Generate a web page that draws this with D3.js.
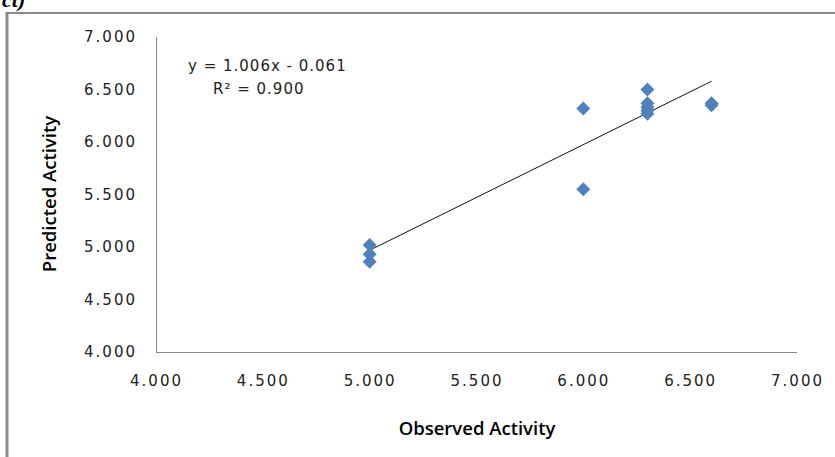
<!DOCTYPE html>
<meta charset="utf-8">
<style>
body { margin: 0; background: #fff; }
.tick text { font-family: "DejaVu Sans", sans-serif; font-size: 15px; letter-spacing: 2px; fill: #222; }
.axis-title { font-family: "Open Sans", sans-serif; font-weight: 600; font-size: 18.5px; fill: #000; }
.eq { font-family: "DejaVu Sans", sans-serif; font-size: 15px; letter-spacing: 1px; fill: #222; }
</style>
<svg width="835" height="457"></svg>
<script src="https://d3js.org/d3.v7.min.js"></script>
<script>
var observed  = [5.0, 5.0, 5.0, 6.0, 6.0, 6.3, 6.3, 6.3, 6.3, 6.3, 6.6, 6.6];
var predicted = [5.02, 4.93, 4.86, 6.32, 5.55, 6.50, 6.37, 6.33, 6.30, 6.27, 6.35, 6.37];
var tickValues = [4, 4.5, 5, 5.5, 6, 6.5, 7];
var slope = 1.006, intercept = -0.061, trendRange = [5.0, 6.6];
var eqLabel = "y = 1.006x - 0.061", r2Label = "R² = 0.900";

var svg = d3.select("svg");

// outer frame of the figure (cropped)
svg.append("line").attr("x1", 7).attr("x2", 7).attr("y1", 12).attr("y2", 457)
    .attr("stroke", "#8a8a8a").attr("stroke-width", 3);
svg.append("line").attr("x1", 6).attr("x2", 835).attr("y1", 13).attr("y2", 13)
    .attr("stroke", "#8a8a8a").attr("stroke-width", 2);
svg.append("text").attr("x", 2).attr("y", 7)
    .style("font-family", "Liberation Serif").style("font-weight", "bold")
    .style("font-style", "italic").style("font-size", "22px").text("ct)");

var x = d3.scaleLinear().domain([4, 7]).range([156, 797]);
var y = d3.scaleLinear().domain([4, 7]).range([352, 37]);

var xAxis = svg.append("g").attr("transform", "translate(0,352)")
    .call(d3.axisBottom(x).tickValues(tickValues).tickFormat(d3.format(".3f")).tickSize(0).tickPadding(23));
var yAxis = svg.append("g").attr("transform", "translate(156,0)")
    .call(d3.axisLeft(y).tickValues(tickValues).tickFormat(d3.format(".3f")).tickSize(0).tickPadding(19));
svg.selectAll(".domain").attr("stroke", "#868686");
xAxis.select(".domain").attr("d", "M156,0.5H797");
yAxis.select(".domain").attr("d", "M0.5,352V37");

// trendline
svg.append("line")
    .attr("x1", x(trendRange[0])).attr("y1", y(slope * trendRange[0] + intercept))
    .attr("x2", x(trendRange[1])).attr("y2", y(slope * trendRange[1] + intercept))
    .attr("stroke", "#111").attr("stroke-width", 1);

// points
var diamond = "M0,-7L7,0L0,7L-7,0Z";
svg.append("g").selectAll("path")
    .data(observed.map(function(d, i) { return [d, predicted[i]]; }))
  .enter().append("path")
    .attr("d", diamond)
    .attr("transform", function(d) { return "translate(" + x(d[0]) + "," + y(d[1]) + ")"; })
    .attr("fill", "#4f81bd");

svg.append("text").attr("class", "eq").attr("x", 188).attr("y", 71).text(eqLabel);
svg.append("text").attr("class", "eq").attr("x", 213).attr("y", 94).text(r2Label);

svg.append("text").attr("class", "axis-title")
    .attr("text-anchor", "middle").attr("x", 477).attr("y", 435).text("Observed Activity");
svg.append("text").attr("class", "axis-title")
    .attr("text-anchor", "middle").attr("transform", "translate(56,194) rotate(-90)").text("Predicted Activity");
</script>
